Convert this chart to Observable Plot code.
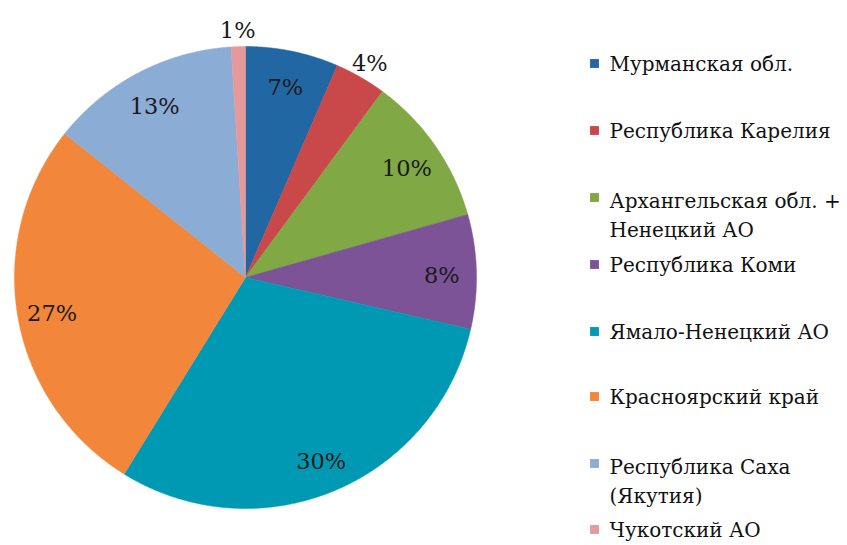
<!DOCTYPE html>
<html>
<head>
<meta charset="utf-8">
<script src="https://cdn.jsdelivr.net/npm/d3@7"></script>
<script src="https://cdn.jsdelivr.net/npm/@observablehq/plot@0.6"></script>
<style>
  html, body { margin: 0; padding: 0; background: #fff; }
</style>
</head>
<body>
<div id="chart"></div>
<script>
// Data
const regions = [
  "Мурманская обл.",
  "Республика Карелия",
  "Архангельская обл. +\nНенецкий АО",
  "Республика Коми",
  "Ямало-Ненецкий АО",
  "Красноярский край",
  "Республика Саха\n(Якутия)",
  "Чукотский АО"
];
const shares = [6.5, 3.6, 10.5, 8.0, 30.2, 26.9, 13.3, 1.0];
const pctLabels = ["7%", "4%", "10%", "8%", "30%", "27%", "13%", "1%"];
const colors = ["#2167A4", "#C9494A", "#80A845", "#7C5397", "#0099B4", "#F2863A", "#8BACD4", "#E6999B"];

// Layout constants
const W = 847, H = 545;
const cx = 245, cy = 277, R = 231;
const FONT = "DejaVu Serif, serif";

const arcs = d3.pie().sort(null).value(d => d)(shares);

// slice outlines built from pie angles
const slicePts = [];
arcs.forEach((a, i) => {
  slicePts.push({region: regions[i], x: cx, y: cy});
  const n = Math.max(4, Math.ceil((a.endAngle - a.startAngle) / 0.005));
  for (let k = 0; k <= n; k++) {
    const t = a.startAngle + (a.endAngle - a.startAngle) * k / n;
    slicePts.push({region: regions[i], x: cx + R * Math.sin(t), y: cy - R * Math.cos(t)});
  }
  slicePts.push({region: regions[i], x: cx, y: cy});
});

const labelPts = arcs.map((a, i) => {
  const mid = (a.startAngle + a.endAngle) / 2;
  const f = shares[i] < 5 ? 1.08 : 0.85;
  return {label: pctLabels[i], x: cx + R * f * Math.sin(mid), y: cy - R * f * Math.cos(mid)};
});

// legend rows
const legendY = [63, 130, 197, 264, 331, 396, 463, 529];
const legend = regions.map((r, i) => ({region: r, y: legendY[i], multi: r.includes("\n")}));

const chart = Plot.plot({
  width: W,
  height: H,
  margin: 0,
  x: {type: "linear", domain: [0, W], range: [0, W], axis: null},
  y: {type: "linear", domain: [0, H], range: [0, H], axis: null},
  color: {domain: regions, range: colors},
  style: {background: "#fff", fontFamily: FONT},
  marks: [
    Plot.line(slicePts, {x: "x", y: "y", z: "region", fill: "region", stroke: "region", strokeWidth: 0.5, curve: "linear"}),
    Plot.text(labelPts, {x: "x", y: "y", text: "label", fontSize: 22.5, dy: 3, fontFamily: FONT, fill: "#1a1a1a"}),
    Plot.dot(legend, {x: () => 594, y: "y", symbol: "square", r: 5, fill: "region", stroke: null}),
    Plot.text(legend.filter(d => !d.multi), {x: () => 609, y: "y", text: "region", textAnchor: "start", fontSize: 20, dy: 1, fontFamily: FONT, fill: "#111"}),
    Plot.text(legend.filter(d => d.multi), {x: () => 609, y: "y", text: "region", textAnchor: "start", fontSize: 20, lineHeight: 1.45, dy: 15.5, fontFamily: FONT, fill: "#111"})
  ]
});

document.getElementById("chart").append(chart);
</script>
</body>
</html>
